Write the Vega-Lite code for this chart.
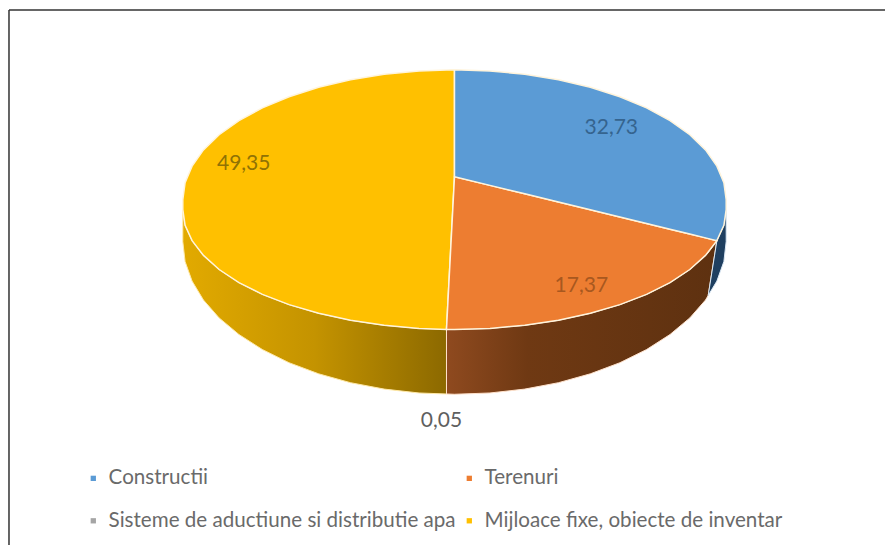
{
"$schema":"https://vega.github.io/schema/vega-lite/v6.json",
"width":886,"height":546,"padding":0,"autosize":{"type":"fit","contains":"padding"},
"background":"#ffffff",
"config":{"view":{"stroke":null}},
"datasets":{
"faces":[
{"slice":"Mijloace fixe, obiecte de inventar","x":183,"y":200,"y2":210},{"slice":"Mijloace fixe, obiecte de inventar","x":185.3,"y":183,"y2":225.7},{"slice":"Mijloace fixe, obiecte de inventar","x":192.3,"y":166.4,"y2":241.1},{"slice":"Mijloace fixe, obiecte de inventar","x":203.7,"y":150.2,"y2":255.9},{"slice":"Mijloace fixe, obiecte de inventar","x":219.4,"y":135,"y2":270},{"slice":"Mijloace fixe, obiecte de inventar","x":239.2,"y":120.9,"y2":283.1},{"slice":"Mijloace fixe, obiecte de inventar","x":262.7,"y":108.1,"y2":294.9},{"slice":"Mijloace fixe, obiecte de inventar","x":289.4,"y":96.9,"y2":305.2},{"slice":"Mijloace fixe, obiecte de inventar","x":319,"y":87.4,"y2":313.9},{"slice":"Mijloace fixe, obiecte de inventar","x":350.9,"y":79.9,"y2":320.9},{"slice":"Mijloace fixe, obiecte de inventar","x":384.6,"y":74.4,"y2":325.9},{"slice":"Mijloace fixe, obiecte de inventar","x":419.5,"y":71.1,"y2":329},{"slice":"Mijloace fixe, obiecte de inventar","x":447,"y":70.2,"y2":330},{"slice":"Mijloace fixe, obiecte de inventar","x":455,"y":70,"y2":177},
{"slice":"Terenuri","x":447,"y":330,"y2":330},{"slice":"Terenuri","x":455,"y":177,"y2":330},{"slice":"Terenuri","x":490.5,"y":185.7,"y2":329},{"slice":"Terenuri","x":525.4,"y":194.2,"y2":325.9},{"slice":"Terenuri","x":559.1,"y":202.4,"y2":320.9},{"slice":"Terenuri","x":591,"y":210.2,"y2":313.9},{"slice":"Terenuri","x":620.6,"y":217.4,"y2":305.2},{"slice":"Terenuri","x":647.3,"y":223.9,"y2":294.9},{"slice":"Terenuri","x":670.8,"y":229.6,"y2":283.1},{"slice":"Terenuri","x":690.6,"y":234.4,"y2":270},{"slice":"Terenuri","x":706.3,"y":238.3,"y2":255.9},{"slice":"Terenuri","x":717.7,"y":241.1,"y2":241.1},
{"slice":"Constructii","x":455,"y":70,"y2":177},{"slice":"Constructii","x":490.5,"y":71.1,"y2":185.7},{"slice":"Constructii","x":525.4,"y":74.4,"y2":194.2},{"slice":"Constructii","x":559.1,"y":79.9,"y2":202.4},{"slice":"Constructii","x":591,"y":87.4,"y2":210.2},{"slice":"Constructii","x":620.6,"y":96.9,"y2":217.4},{"slice":"Constructii","x":647.3,"y":108.1,"y2":223.9},{"slice":"Constructii","x":670.8,"y":120.9,"y2":229.6},{"slice":"Constructii","x":690.6,"y":135,"y2":234.4},{"slice":"Constructii","x":706.3,"y":150.2,"y2":238.3},{"slice":"Constructii","x":717.7,"y":166.4,"y2":241.1},{"slice":"Constructii","x":724.7,"y":183,"y2":225.7},{"slice":"Constructii","x":727,"y":200,"y2":210}
],
"wallYellow":[
{"x":183,"y":210,"y2":242},{"x":185.3,"y":225.7,"y2":262},{"x":192.3,"y":241.1,"y2":281.6},{"x":203.7,"y":255.9,"y2":300.6},{"x":219.4,"y":270,"y2":318.5},{"x":239.2,"y":283.1,"y2":335.1},{"x":262.7,"y":294.9,"y2":350.2},{"x":289.4,"y":305.2,"y2":363.4},{"x":319,"y":313.9,"y2":374.5},{"x":350.9,"y":320.9,"y2":383.4},{"x":384.6,"y":325.9,"y2":389.8},{"x":419.5,"y":329,"y2":393.7},{"x":447,"y":330,"y2":394.7}
],
"wallOrange":[
{"x":447,"y":330,"y2":394.7},{"x":455,"y":330,"y2":395},{"x":490.5,"y":329,"y2":393.7},{"x":525.4,"y":325.9,"y2":389.8},{"x":559.1,"y":320.9,"y2":383.4},{"x":591,"y":313.9,"y2":374.5},{"x":620.6,"y":305.2,"y2":363.4},{"x":647.3,"y":294.9,"y2":350.2},{"x":670.8,"y":283.1,"y2":335.1},{"x":690.6,"y":270,"y2":318.5},{"x":706.3,"y":255.9,"y2":300.6},{"x":709,"y":253,"y2":296},{"x":717.7,"y":241.1,"y2":241.1}
],
"wallBlue":[
{"x":709,"y":296,"y2":296},{"x":717.7,"y":241.1,"y2":281.6},{"x":724.7,"y":225.7,"y2":262},{"x":727,"y":210,"y2":242}
],
"labels":[
{"slice":"Constructii","value":32.73,"label":"32,73","lx":612,"ly":128},
{"slice":"Terenuri","value":17.37,"label":"17,37","lx":582,"ly":287},
{"slice":"Sisteme de aductiune si distributie apa","value":0.05,"label":"0,05","lx":442,"ly":422},
{"slice":"Mijloace fixe, obiecte de inventar","value":49.35,"label":"49,35","lx":244,"ly":164}
],
"frame":[
{"fx":9,"fy":10,"fx2":886,"fy2":10},
{"fx":9,"fy":10,"fx2":9,"fy2":546}
]
},
"resolve":{"scale":{"color":"independent"}},
"layer":[
{"data":{"name":"wallYellow"},
"mark":{"type":"area","orient":"vertical","stroke":"#ffe9a8","strokeWidth":1,"color":{"gradient":"linear","x1":0,"x2":1,"y1":0,"y2":0,"stops":[{"offset":0,"color":"#e2aa00"},{"offset":0.5,"color":"#c49300"},{"offset":1,"color":"#8c6900"}]}},
"encoding":{"x":{"field":"x","type":"quantitative","axis":null,"scale":{"domain":[0,886],"nice":false,"zero":false}},"y":{"field":"y","type":"quantitative","axis":null,"stack":null,"scale":{"domain":[546,0],"nice":false,"zero":false}},"y2":{"field":"y2"}}},
{"data":{"name":"wallOrange"},
"mark":{"type":"area","orient":"vertical","stroke":"#ffe2cc","strokeWidth":1,"color":{"gradient":"linear","x1":0,"x2":1,"y1":0,"y2":0,"stops":[{"offset":0,"color":"#8f4a1f"},{"offset":0.3,"color":"#6f3913"},{"offset":1,"color":"#5e3110"}]}},
"encoding":{"x":{"field":"x","type":"quantitative","axis":null,"scale":{"domain":[0,886],"nice":false,"zero":false}},"y":{"field":"y","type":"quantitative","axis":null,"stack":null,"scale":{"domain":[546,0],"nice":false,"zero":false}},"y2":{"field":"y2"}}},
{"data":{"name":"wallBlue"},
"mark":{"type":"area","orient":"vertical","stroke":"#dce9f5","strokeWidth":1,"color":"#1f3f60"},
"encoding":{"x":{"field":"x","type":"quantitative","axis":null,"scale":{"domain":[0,886],"nice":false,"zero":false}},"y":{"field":"y","type":"quantitative","axis":null,"stack":null,"scale":{"domain":[546,0],"nice":false,"zero":false}},"y2":{"field":"y2"}}},
{"data":{"name":"faces"},
"mark":{"type":"area","orient":"vertical","stroke":"#fff4dc","strokeWidth":1.5},
"encoding":{"x":{"field":"x","type":"quantitative","axis":null,"scale":{"domain":[0,886],"nice":false,"zero":false}},"y":{"field":"y","type":"quantitative","axis":null,"stack":null,"scale":{"domain":[546,0],"nice":false,"zero":false}},"y2":{"field":"y2"},
"color":{"field":"slice","type":"nominal","sort":null,"scale":{"domain":["Constructii","Terenuri","Sisteme de aductiune si distributie apa","Mijloace fixe, obiecte de inventar"],"range":["#5b9bd5","#ed7d31","#a5a5a5","#ffc000"]},
"legend":{"title":null,"orient":"none","direction":"horizontal","legendX":83,"legendY":468,"columns":2,"symbolType":"square","symbolSize":28,"symbolStrokeWidth":0,"labelFont":"Lato","labelFontSize":20.6,"labelColor":"#6a6a6a","labelLimit":420,"rowPadding":21.5,"columnPadding":3,"labelOffset":5}}}},
{"data":{"name":"labels"},
"mark":{"type":"text","font":"Lato","fontSize":21,"align":"center","baseline":"middle"},
"encoding":{"x":{"field":"lx","type":"quantitative","axis":null,"scale":{"domain":[0,886],"nice":false,"zero":false}},"y":{"field":"ly","type":"quantitative","axis":null,"scale":{"domain":[546,0],"nice":false,"zero":false}},"text":{"field":"label"},
"color":{"field":"slice","type":"nominal","legend":null,"scale":{"domain":["Constructii","Terenuri","Sisteme de aductiune si distributie apa","Mijloace fixe, obiecte de inventar"],"range":["#35648f","#a8581f","#5f5f5f","#8f7205"]}}}},
{"data":{"name":"frame"},
"mark":{"type":"rule","color":"#333333","strokeWidth":1.5},
"encoding":{"x":{"field":"fx","type":"quantitative","axis":null,"scale":{"domain":[0,886],"nice":false,"zero":false}},"y":{"field":"fy","type":"quantitative","axis":null,"scale":{"domain":[546,0],"nice":false,"zero":false}},"x2":{"field":"fx2"},"y2":{"field":"fy2"}}}
]
}
